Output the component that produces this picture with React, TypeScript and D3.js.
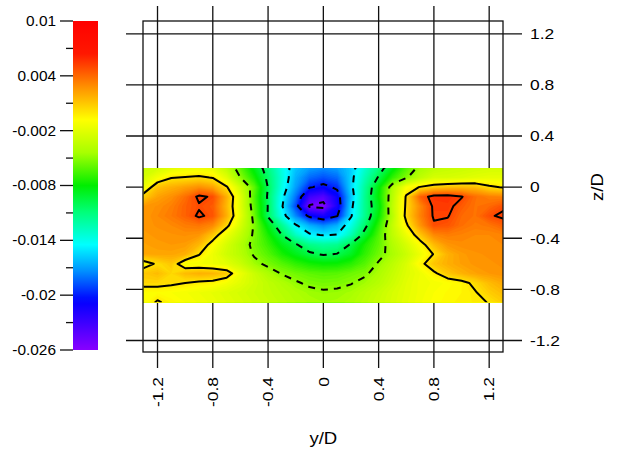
import React from 'react';
import * as d3 from 'd3';

const W = 618;
const H = 452;

// Measurement grid: y/D columns and z/D rows
const yGrid = [-1.3, -1.2, -1.1, -1.0, -0.9, -0.8, -0.7, -0.6, -0.5, -0.4, -0.3, -0.2, -0.1, 0, 0.1, 0.2, 0.3, 0.4, 0.5, 0.6, 0.7, 0.8, 0.9, 1.0, 1.1, 1.2, 1.3];
const zGrid = [0.15, 0.075, 0, -0.075, -0.15, -0.225, -0.3, -0.375, -0.45, -0.525, -0.6, -0.675, -0.75, -0.825, -0.9];

// Field values, in units of 1e-3, one row per z/D
const rowZ0150 = [-3.0, -2.7, -2.0, -1.6, -1.5, -1.8, -3.5, -6.0, -8.5, -11.0, -13.8, -16.0, -17.0, -17.4, -17.0, -15.8, -13.2, -11.0, -8.5, -6.3, -4.5, -3.6, -3.2, -3.0, -2.8, -2.6, -2.6];
const rowZ0075 = [-2.5, -1.2, -0.1, 0.1, 0.3, -0.1, -2.0, -5.0, -7.5, -10.5, -13.5, -16.5, -18.2, -18.8, -18.2, -15.6, -12.5, -9.8, -7.0, -5.2, -3.5, -2.5, -2.5, -2.3, -2.0, -1.8, -1.8];
const rowZ0000 = [-1.5, 1.2, 1.8, 2.3, 2.8, 2.2, 0.2, -2.8, -6.0, -10.1, -13.8, -17.0, -19.8, -20.6, -19.6, -15.5, -11.8, -8.3, -4.0, -1.0, 0.1, 0.8, 1.2, 1.4, 1.3, 0.3, -0.1];
const rowZm075 = [0.8, 2.2, 2.8, 3.8, 5.3, 4.8, 1.8, -2.0, -6.3, -10.3, -14.5, -18.0, -23.0, -24.0, -21.0, -16.0, -11.5, -8.0, -3.8, 0.2, 4.2, 5.6, 5.7, 5.1, 3.8, 3.3, 3.2];
const rowZm150 = [2.5, 2.8, 3.3, 4.2, 4.85, 4.4, 1.5, -2.0, -6.0, -10.1, -14.8, -19.0, -25.3, -25.8, -21.5, -15.5, -11.5, -8.5, -3.5, 0.3, 3.0, 5.3, 5.4, 4.4, 3.7, 4.0, 4.7];
const rowZm225 = [2.5, 3.0, 3.5, 4.2, 5.25, 4.6, 1.8, -1.8, -5.6, -10.2, -14.0, -17.5, -20.5, -21.5, -20.1, -15.2, -11.5, -8.0, -3.8, 0.5, 3.2, 5.2, 5.1, 4.0, 3.7, 4.8, 5.3];
const rowZm300 = [2.6, 2.8, 3.0, 3.4, 3.6, 3.0, 0.5, -2.5, -5.2, -8.5, -11.5, -14.8, -16.5, -17.5, -16.5, -13.8, -10.6, -7.0, -3.3, -0.3, 2.6, 4.8, 4.6, 3.8, 3.4, 3.6, 4.2];
const rowZm375 = [2.4, 2.6, 2.7, 2.8, 2.6, 1.0, -1.5, -3.3, -5.3, -7.5, -10.0, -12.8, -14.7, -15.1, -14.9, -12.5, -9.2, -6.3, -3.5, -1.5, 1.0, 3.0, 3.4, 3.2, 3.0, 3.0, 3.2];
const rowZm450 = [2.2, 2.4, 2.5, 2.4, 1.5, -0.8, -2.5, -4.0, -5.5, -6.8, -8.5, -9.8, -11.3, -11.8, -11.5, -9.8, -7.5, -6.0, -4.0, -2.5, -0.8, 1.4, 2.6, 2.9, 2.9, 2.9, 3.0];
const rowZm525 = [2.0, 2.1, 2.1, 1.8, 0.1, -1.5, -2.8, -3.8, -5.2, -6.2, -7.5, -8.6, -9.6, -10.2, -9.9, -8.8, -7.0, -5.6, -4.3, -3.0, -1.5, 0.1, 1.7, 2.4, 2.7, 2.8, 2.9];
const rowZm600 = [-0.8, 0.3, 1.0, -1.2, -1.2, -1.5, -2.0, -3.0, -4.5, -5.4, -6.2, -7.0, -7.6, -7.9, -7.8, -7.2, -6.2, -4.8, -3.6, -2.4, -0.5, 1.1, 1.8, 2.3, 2.6, 2.7, 2.8];
const rowZm675 = [1.0, 1.4, 0.5, 1.4, 1.8, 1.6, 1.0, -1.5, -3.0, -4.2, -5.1, -5.6, -6.0, -6.2, -6.1, -5.7, -5.3, -4.2, -3.2, -2.2, -1.5, -0.3, 1.0, 1.7, 2.2, 2.5, 2.7];
const rowZm750 = [0.5, 0.5, 0.3, 0.0, -0.3, -0.5, -1.2, -2.0, -2.8, -3.5, -4.1, -4.8, -5.3, -5.5, -5.4, -5.1, -4.5, -3.8, -2.9, -2.0, -1.4, -1.2, -0.9, -0.5, 0.4, 1.4, 2.0];
const rowZm825 = [-0.8, -0.8, -1.0, -1.2, -1.5, -1.8, -2.2, -2.6, -3.0, -3.4, -3.8, -4.2, -4.6, -4.8, -4.7, -4.4, -3.8, -3.2, -2.5, -1.9, -1.4, -1.0, -0.7, -0.5, -0.1, 0.8, 1.4];
const rowZm900 = [-1.0, 0.2, -0.6, -1.0, -1.3, -1.6, -2.0, -2.4, -2.8, -3.2, -3.6, -4.0, -4.3, -4.5, -4.4, -4.1, -3.6, -3.0, -2.4, -1.8, -1.3, -0.9, -0.6, -0.4, -0.2, 0.05, 0.8];

const fieldRows = [rowZ0150, rowZ0075, rowZ0000, rowZm075, rowZm150, rowZm225, rowZm300, rowZm375, rowZm450, rowZm525, rowZm600, rowZm675, rowZm750, rowZm825, rowZm900];

// Axes
const yTicks = [-1.2, -0.8, -0.4, 0, 0.4, 0.8, 1.2];
const zTicks = [1.2, 0.8, 0.4, 0, -0.4, -0.8, -1.2];
const cbTicks = [0.01, 0.004, -0.002, -0.008, -0.014, -0.02, -0.026];
const cbMinorTicks = [0.007, 0.001, -0.005, -0.011, -0.017, -0.023];

// Contour levels
const solidLevels = [0.005, 0];
const dashedLevels = [-0.005, -0.01, -0.015, -0.02, -0.025];

// Rainbow colour map (position along bar from top 0 to bottom 1)
const colorStopPos = [0, 0.1, 0.2, 0.3, 0.4, 0.5, 0.58, 0.68, 0.76, 0.85, 1];
const colorStopCol = ['#ff0000', '#ff1800', '#ff9000', '#ffff00', '#a8ff00', '#00ee00', '#00ff78', '#00ffff', '#0090ff', '#0000ff', '#8800ff'];

const FONT = 'Liberation Sans, Arial, Helvetica, sans-serif';

export default function App() {
  const xS = d3.scaleLinear().domain([-1.305, 1.3]).range([143, 503]);
  const zS = d3.scaleLinear().domain([-1.29, 1.3]).range([352, 21]);
  const cbS = d3.scaleLinear().domain([-0.026, 0.01]).range([350, 21]);
  const tCol = d3
    .scaleLinear<string>()
    .domain(colorStopPos)
    .range(colorStopCol)
    .interpolate(d3.interpolateRgb)
    .clamp(true);
  const colorOf = (v: number) => tCol((0.01 - v) / 0.036);

  const nx = yGrid.length;
  const nz = zGrid.length;
  const values = fieldRows.flat().map((v) => v / 1000);

  const gx = d3.scaleLinear().domain([0.5, nx - 0.5]).range([xS(yGrid[0]), xS(yGrid[nx - 1])]);
  const gz = d3.scaleLinear().domain([0.5, nz - 0.5]).range([zS(zGrid[0]), zS(zGrid[nz - 1])]);
  const proj = d3.geoTransform({
    point(x: number, y: number) {
      (this as any).stream.point(gx(x), gz(y));
    },
  });
  const path = d3.geoPath(proj);

  const step = 0.00025;
  const fillThresholds = d3.range(-0.0275, 0.0076, step);
  const bands = d3.contours().size([nx, nz]).thresholds(fillThresholds)(values);
  const solid = d3.contours().size([nx, nz]).thresholds(solidLevels)(values);
  const dashed = d3.contours().size([nx, nz]).thresholds(dashedLevels)(values);

  const clipX0 = xS(yGrid[0]);
  const clipX1 = xS(yGrid[nx - 1]);
  const clipY0 = zS(zGrid[0]);
  const clipY1 = zS(zGrid[nz - 1]);

  const gradStops = d3.range(0, 1.0001, 0.02);

  const lineCol = '#111';
  const sx = 1.16;

  return (
    <svg
      width={W}
      height={H}
      style={{ position: 'absolute', left: 0, top: 0, background: '#fff', display: 'block' }}
      fontFamily={FONT}
    >
      <defs>
        <clipPath id="dataClip">
          <rect x={clipX0} y={clipY0} width={clipX1 - clipX0} height={clipY1 - clipY0} />
        </clipPath>
        <linearGradient id="cbGrad" x1="0" y1="0" x2="0" y2="1">
          {gradStops.map((t, i) => (
            <stop key={i} offset={t} stopColor={tCol(t)} />
          ))}
        </linearGradient>
      </defs>
      <rect x={0} y={0} width={W} height={H} fill="#fff" />

      {/* grid lines */}
      <g stroke={lineCol} strokeWidth={1.3}>
        {yTicks.map((t) => (
          <line key={'vx' + t} x1={xS(t)} x2={xS(t)} y1={6} y2={368} />
        ))}
        {zTicks.map((t) => (
          <line key={'hz' + t} x1={126} x2={522} y1={zS(t)} y2={zS(t)} />
        ))}
      </g>

      {/* contour flood */}
      <g clipPath="url(#dataClip)">
        {bands.map((b, i) => (
          <path key={i} d={path(b as any) || ''} fill={colorOf(b.value + step / 2)} stroke="none" />
        ))}
        {solid.map((c, i) => (
          <path
            key={'s' + i}
            d={path(c as any) || ''}
            fill="none"
            stroke="#000"
            strokeWidth={2}
            strokeLinejoin="round"
          />
        ))}
        {dashed.map((c, i) => (
          <path
            key={'d' + i}
            d={path(c as any) || ''}
            fill="none"
            stroke="#000"
            strokeWidth={2}
            strokeDasharray="7 6"
          />
        ))}
      </g>

      {/* frame */}
      <rect x={143} y={21} width={360} height={331} fill="none" stroke={lineCol} strokeWidth={1.3} />

      {/* right axis labels */}
      <g fontSize={15} fill="#000">
        {zTicks.map((t) => (
          <text
            key={'zl' + t}
            transform={`translate(530,${zS(t)}) scale(${sx},1)`}
            dy="0.35em"
            textAnchor="start"
          >
            {String(t)}
          </text>
        ))}
        {yTicks.map((t) => (
          <text
            key={'yl' + t}
            transform={`translate(${xS(t)},377) rotate(-90) scale(${sx},1)`}
            dy="0.35em"
            textAnchor="end"
          >
            {String(t)}
          </text>
        ))}
      </g>

      <text transform={`translate(${xS(0)},444) scale(${sx},1)`} fontSize={16} textAnchor="middle">
        y/D
      </text>
      <text transform={`translate(597,${zS(0)}) rotate(-90) scale(${sx},1)`} fontSize={16} textAnchor="middle" dy="0.35em">
        z/D
      </text>

      {/* colour bar */}
      <rect x={73} y={cbS(0.01)} width={25} height={cbS(-0.026) - cbS(0.01)} fill="url(#cbGrad)" />
      <g stroke={lineCol} strokeWidth={1.3}>
        {cbTicks.map((t) => (
          <line key={'cb' + t} x1={60} x2={73} y1={cbS(t)} y2={cbS(t)} />
        ))}
        {cbMinorTicks.map((t) => (
          <line key={'cbm' + t} x1={66} x2={73} y1={cbS(t)} y2={cbS(t)} />
        ))}
      </g>
      <g fontSize={14} fill="#000">
        {cbTicks.map((t) => (
          <text
            key={'cbl' + t}
            transform={`translate(56,${cbS(t)}) scale(1.1,1)`}
            dy="0.35em"
            textAnchor="end"
          >
            {String(t)}
          </text>
        ))}
      </g>
    </svg>
  );
}
